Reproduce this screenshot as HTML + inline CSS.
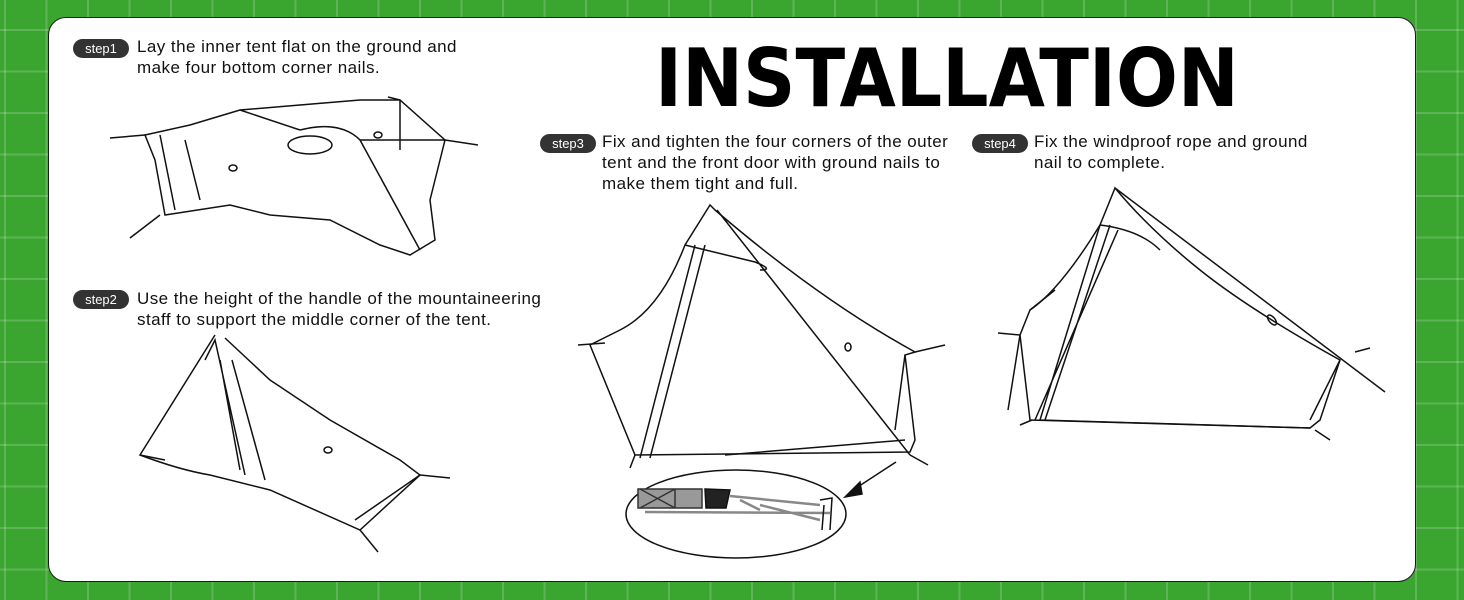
<!DOCTYPE html>
<html><head><meta charset="utf-8"><style>
html,body{margin:0;padding:0}
body{width:1464px;height:600px;position:relative;overflow:hidden;
background-color:#3aa52f;
background-image:linear-gradient(to right,rgba(255,255,255,.18) 2px,transparent 2px),linear-gradient(to bottom,rgba(255,255,255,.18) 2px,transparent 2px);
background-size:41.5px 41.5px;background-position:4px 29px;font-family:"Liberation Sans",sans-serif}
.card{position:absolute;left:48px;top:17px;width:1368px;height:565px;background:#fff;border-radius:18px;border:1px solid #1a1a1a;box-sizing:border-box}
.pill{position:absolute;background:#333;color:#fff;border-radius:10px;font-size:13px;height:19px;line-height:19px;text-align:center;width:56px}
.t{position:absolute;font-size:17px;letter-spacing:0.45px;line-height:21px;color:#111}
h1{position:absolute;left:655px;top:34px;margin:0;font-size:80px;font-weight:900;font-family:"DejaVu Sans","Liberation Sans",sans-serif;line-height:90px;white-space:nowrap;transform:scaleX(0.91);transform-origin:left}
svg{position:absolute;left:0;top:0}
</style></head><body>
<div class="card"></div>
<h1>INSTALLATION</h1>
<div class="pill" style="left:73px;top:39px">step1</div>
<div class="t" style="left:137px;top:36px">Lay the inner tent flat on the ground and<br>make four bottom corner nails.</div>
<div class="pill" style="left:73px;top:290px">step2</div>
<div class="t" style="left:137px;top:288px">Use the height of the handle of the mountaineering<br>staff to support the middle corner of the tent.</div>
<div class="pill" style="left:540px;top:134px">step3</div>
<div class="t" style="left:602px;top:131px">Fix and tighten the four corners of the outer<br>tent and the front door with ground nails to<br>make them tight and full.</div>
<div class="pill" style="left:972px;top:134px">step4</div>
<div class="t" style="left:1034px;top:131px">Fix the windproof rope and ground<br>nail to complete.</div>
<svg width="1464" height="600" fill="none" stroke="#111" stroke-width="1.5">
<!-- step1 -->
<path d="M145 135 L190 125 L240 110 L300 105 L360 100 L400 100 L445 140 L435 180 L430 200 L435 240 L410 255 L380 245 L330 220 L270 215 L230 205 L165 215 L155 160 Z"/>
<path d="M160 135 L175 210 M185 140 L200 200 M300 130 Q340 120 360 140 L420 250 M240 110 L300 130 M360 140 L445 140 M400 100 L400 150"/>
<ellipse cx="310" cy="145" rx="22" ry="9"/><ellipse cx="378" cy="135" rx="4" ry="3"/><ellipse cx="233" cy="168" rx="4" ry="3"/>
<path d="M110 138 L145 135 M130 238 L160 215 M445 140 L478 145 M388 97 L400 100"/>
<!-- step2 -->
<path d="M215 335 L140 455 Q180 470 210 475 L270 490 L360 530 L420 475 L400 460 L330 420 L270 380 L225 338"/>
<path d="M205 360 L215 340 L245 475 M220 360 L240 470 M232 360 L265 480 M355 520 L420 475 M360 530 L378 552 M420 475 L450 478 M140 455 L165 460"/>
<ellipse cx="328" cy="450" rx="4" ry="3"/>
<!-- step3 -->
<path d="M710 205 L685 245 Q660 310 620 330 L590 345 L635 455 L910 452 L915 440 L905 355 L915 352 Q820 300 715 210 Z"/>
<path d="M685 245 L755 262 Q775 270 760 270 M695 245 L640 458 M705 245 L650 458 M717 210 L910 455 M725 455 L905 440 M905 355 L895 430"/>
<ellipse cx="848" cy="347" rx="3" ry="4"/>
<path d="M578 345 L605 343 M635 455 L630 468 M910 455 L928 465 M915 352 L945 345"/>
<path d="M896 462 L850 492" /><path d="M845 497 L860 482 L862 494 Z" fill="#111"/>
<ellipse cx="736" cy="514" rx="110" ry="44"/>
<rect x="638" y="489" width="64" height="19" fill="#999" stroke="#333"/>
<path d="M640 489 L675 508 M640 508 L675 489 M675 489 L675 508" stroke="#333"/>
<path d="M705 489 L730 490 L726 508 L706 508 Z" fill="#222"/>
<path d="M730 496 L820 505 M645 512 L830 513 M740 500 L760 510 M760 505 L820 520" stroke="#888" stroke-width="2.5"/>
<path d="M820 500 L832 498 L830 530 M824 505 L822 530"/>
<!-- step4 -->
<path d="M1115 188 L1100 225 Q1060 290 1030 310 L1020 335 L1030 420 L1310 428 L1320 420 L1340 360 Q1250 310 1200 270 Q1150 230 1115 188 Z"/>
<path d="M1115 188 L1385 392 M1100 225 L1040 420 M1110 225 L1045 420 M1118 230 L1035 420 M1040 420 L1310 428 M1340 360 L1310 420 M1100 225 Q1140 230 1160 250 M1030 310 L1055 290 M1020 335 L1008 410 M1355 352 L1370 348 M1315 430 L1330 440 M1020 425 L1032 420 M998 333 L1020 335"/>
<ellipse cx="1272" cy="320" rx="3" ry="6" transform="rotate(-40 1272 320)"/>
</svg>
</body></html>
